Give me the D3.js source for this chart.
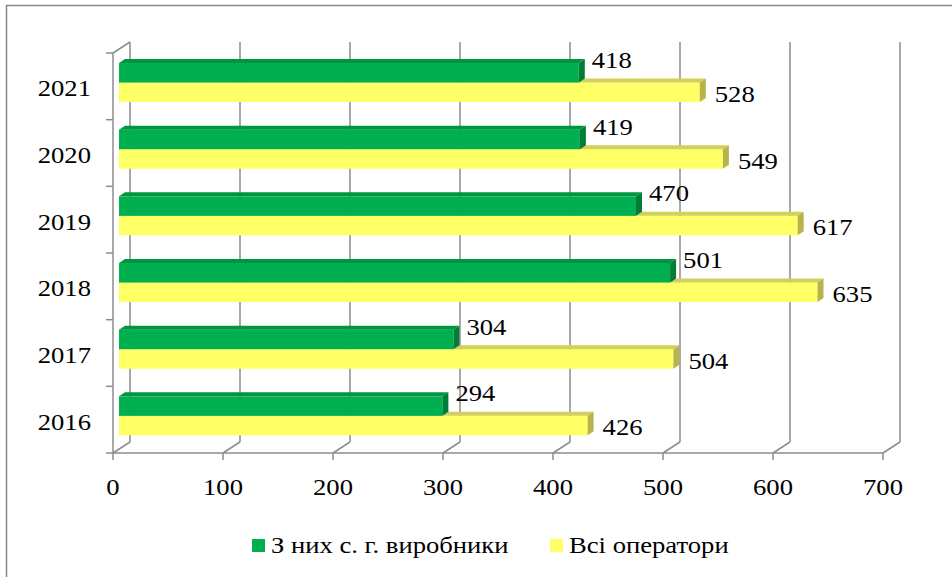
<!DOCTYPE html>
<html>
<head>
<meta charset="utf-8">
<script src="https://cdn.jsdelivr.net/npm/d3@7"></script>
<style>
  body { margin: 0; background: #fff; }
</style>
</head>
<body>
<svg id="chart" width="952" height="577"></svg>
<script>
var years = ["2016", "2017", "2018", "2019", "2020", "2021"];
var producers = [294, 304, 501, 470, 419, 418];
var operators = [426, 504, 635, 617, 549, 528];
var xTicks = [0, 100, 200, 300, 400, 500, 600, 700];
var seriesNames = ["З них с. г. виробники", "Всі оператори"];

var svg = d3.select("#chart");
var fontFamily = "'Liberation Serif', 'Times New Roman', 'DejaVu Serif', serif";
var fontSize = 24, stretch = 1.11;
var depth = { dx: 17, dy: -11 };   // wall depth
var barDepth = { dx: 6, dy: -4 };  // bar depth
var gridColor = "#8c8c8c";

var x = d3.scaleLinear().domain([0, 700]).range([113, 883]);
var y = d3.scaleBand().domain(years.slice().reverse()).range([53, 453]);

// stretched text helper (the source picture is wider than tall)
function label(g, tx, ty, str, anchor) {
  return g.append("g")
    .attr("transform", "translate(" + tx + "," + ty + ") scale(" + stretch + ",1)")
    .append("text")
    .attr("font-family", fontFamily)
    .attr("font-size", fontSize)
    .attr("fill", "#000")
    .attr("text-anchor", anchor || "start")
    .text(str);
}

// frame
svg.append("path")
  .attr("d", "M6.5,577V5.5H952")
  .attr("fill", "none").attr("stroke", "#888").attr("stroke-width", 1.5);

var grid = svg.append("g").attr("stroke", gridColor).attr("stroke-width", 1.5).attr("fill", "none");

// back wall verticals + floor diagonals
xTicks.forEach(function (t) {
  var fx = x(t);
  grid.append("line")
    .attr("x1", fx + depth.dx).attr("x2", fx + depth.dx)
    .attr("y1", 53 + depth.dy).attr("y2", 453 + depth.dy);
  grid.append("line")
    .attr("x1", fx).attr("y1", 453)
    .attr("x2", fx + depth.dx).attr("y2", 453 + depth.dy);
  grid.append("line")
    .attr("x1", fx).attr("x2", fx).attr("y1", 453).attr("y2", 460);
});

// left wall front edge + top slant
grid.append("line").attr("x1", 113).attr("x2", 113).attr("y1", 53).attr("y2", 453);
grid.append("line").attr("x1", 113).attr("y1", 53).attr("x2", 113 + depth.dx).attr("y2", 53 + depth.dy);
grid.append("line").attr("x1", 113).attr("x2", 883).attr("y1", 453).attr("y2", 453);

// category ticks on the left
var catEdges = y.domain().map(function (d) { return y(d); }).concat([453]);
catEdges.forEach(function (e) {
  grid.append("line").attr("x1", 106).attr("x2", 113).attr("y1", e).attr("y2", e);
});

// bars
var barH = 19.5, barOff = 14;
var colors = [
  { front: "#00b050", top: "#00963f", side: "#007e36" },
  { front: "#ffff66", top: "#d2cf5c", side: "#b7b44a" }
];

function bar3d(g, v, top, c) {
  var x0 = x(0) + barDepth.dx, x1 = x(v) + barDepth.dx;
  var dx = barDepth.dx, dy = barDepth.dy;
  g.append("rect")
    .attr("x", x0).attr("y", top).attr("width", x1 - x0).attr("height", barH)
    .attr("fill", c.front);
  g.append("path")
    .attr("d", "M" + x0 + "," + top + "L" + x1 + "," + top + "L" + (x1 + dx) + "," + (top + dy) +
      "L" + (x0 + dx) + "," + (top + dy) + "Z")
    .attr("fill", c.top);
  g.append("path")
    .attr("d", "M" + x1 + "," + top + "L" + (x1 + dx) + "," + (top + dy) + "L" + (x1 + dx) + "," +
      (top + dy + barH) + "L" + x1 + "," + (top + barH) + "Z")
    .attr("fill", c.side);
}

var bars = svg.append("g");
var labels = svg.append("g");
years.forEach(function (yr, i) {
  var gTop = y(yr) + barDepth.dy + barOff;
  bar3d(bars, operators[i], gTop + barH, colors[1]);
  bar3d(bars, producers[i], gTop, colors[0]);
  label(labels, x(producers[i]) + barDepth.dx * 2 + 7, gTop + 5, String(producers[i]));
  label(labels, x(operators[i]) + barDepth.dx * 2 + 9, gTop + barH * 2, String(operators[i]));
});

// axis labels
var axisText = svg.append("g");
years.forEach(function (yr) {
  label(axisText, 91, y(yr) + y.bandwidth() / 2 + 10, yr, "end");
});
xTicks.forEach(function (t) {
  label(axisText, x(t), 495, String(t), "middle");
});

// legend
var legend = svg.append("g");
var legendX = [252, 550];
seriesNames.forEach(function (name, i) {
  legend.append("rect")
    .attr("x", legendX[i]).attr("y", 539).attr("width", 13).attr("height", 13)
    .attr("fill", colors[i].front);
  label(legend, legendX[i] + 19, 553, name);
});
</script>
</body>
</html>
